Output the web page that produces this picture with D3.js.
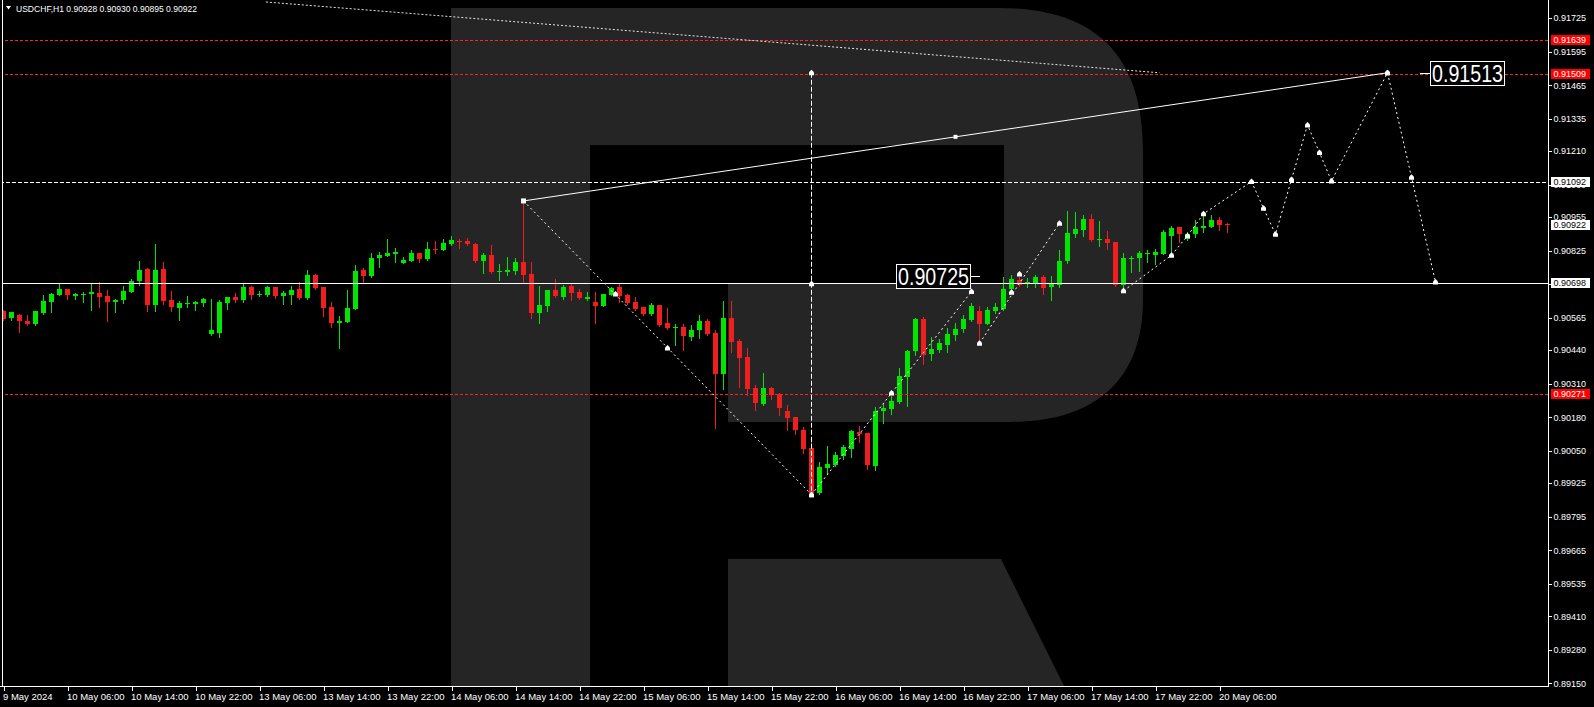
<!DOCTYPE html>
<html><head><meta charset="utf-8">
<script src="https://cdn.jsdelivr.net/npm/d3@7"></script>
<style>html,body{margin:0;padding:0;background:#000;overflow:hidden}</style>
</head><body>
<svg id="c" width="1594" height="707"></svg>
<script>
// ---------- DATA ----------
const symbolTitle = "USDCHF,H1  0.90928 0.90930 0.90895 0.90922";
const openP = [0.90591,0.90564,0.90576,0.90553,0.90541,0.90584,0.90626,0.90653,0.90677,0.90650,
0.90654,0.90657,0.90661,0.90650,0.90626,0.90634,0.90665,0.90708,0.90755,0.90615,
0.90755,0.90634,0.90603,0.90620,0.90619,0.90622,0.90502,0.90506,0.90622,0.90646,
0.90634,0.90684,0.90653,0.90653,0.90684,0.90650,0.90653,0.90677,0.90642,0.90731,
0.90684,0.90607,0.90545,0.90549,0.90599,0.90750,0.90727,0.90797,0.90804,0.90812,
0.90777,0.90785,0.90816,0.90793,0.90831,0.90828,0.90851,0.90862,0.90862,0.90851,
0.90785,0.90808,0.90743,0.90742,0.90746,0.90781,0.90735,0.90584,0.90611,0.90673,
0.90646,0.90688,0.90665,0.90638,0.90626,0.90611,0.90653,0.90684,0.90653,0.90626,
0.90607,0.90580,0.90615,0.90545,0.90526,0.90530,0.90491,0.90518,0.90553,0.90506,
0.90348,0.90564,0.90475,0.90413,0.90293,0.90232,0.90293,0.90270,0.90204,0.90181,
0.90131,0.90061,0.89887,0.89984,0.89995,0.90030,0.90057,0.90123,0.90119,0.89992,
0.90204,0.90212,0.90239,0.90336,0.90437,0.90561,0.90425,0.90441,0.90460,0.90499,
0.90522,0.90557,0.90591,0.90541,0.90591,0.90599,0.90677,0.90711,0.90700,0.90700,
0.90723,0.90684,0.90692,0.90785,0.90889,0.90905,0.90947,0.90867,0.90871,0.90858,
0.90692,0.90793,0.90797,0.90812,0.90808,0.90812,0.90882,0.90917,0.90870,0.90889,
0.90913,0.90917,0.90944,0.90928];
const highP = [0.90595,0.90586,0.90579,0.90576,0.90591,0.90653,0.90661,0.90695,0.90677,0.90661,
0.90665,0.90697,0.90704,0.90673,0.90638,0.90688,0.90715,0.90785,0.90758,0.90851,
0.90781,0.90669,0.90630,0.90650,0.90630,0.90642,0.90638,0.90634,0.90646,0.90661,
0.90696,0.90688,0.90669,0.90688,0.90684,0.90669,0.90688,0.90704,0.90750,0.90735,
0.90684,0.90626,0.90572,0.90673,0.90769,0.90758,0.90816,0.90820,0.90870,0.90835,
0.90800,0.90828,0.90816,0.90858,0.90862,0.90870,0.90882,0.90870,0.90874,0.90855,
0.90816,0.90847,0.90773,0.90800,0.90797,0.91017,0.90781,0.90688,0.90673,0.90715,
0.90692,0.90696,0.90677,0.90665,0.90665,0.90657,0.90684,0.90696,0.90657,0.90646,
0.90607,0.90622,0.90615,0.90603,0.90541,0.90541,0.90537,0.90576,0.90561,0.90518,
0.90630,0.90630,0.90483,0.90448,0.90305,0.90352,0.90297,0.90274,0.90228,0.90181,
0.90143,0.90104,0.90007,0.90069,0.90046,0.90073,0.90131,0.90146,0.90119,0.90220,
0.90232,0.90262,0.90371,0.90441,0.90564,0.90568,0.90491,0.90483,0.90526,0.90545,
0.90576,0.90622,0.90611,0.90607,0.90622,0.90723,0.90731,0.90723,0.90719,0.90731,
0.90731,0.90727,0.90828,0.90978,0.90975,0.90963,0.90967,0.90940,0.90901,0.90858,
0.90816,0.90804,0.90824,0.90828,0.90831,0.90905,0.90920,0.90917,0.90897,0.90944,
0.90963,0.90963,0.90955,0.90930];
const lowP = [0.90557,0.90557,0.90508,0.90535,0.90537,0.90580,0.90588,0.90653,0.90639,0.90639,
0.90626,0.90595,0.90607,0.90553,0.90588,0.90622,0.90665,0.90692,0.90591,0.90591,
0.90619,0.90591,0.90557,0.90607,0.90595,0.90611,0.90499,0.90491,0.90599,0.90626,
0.90626,0.90638,0.90650,0.90650,0.90642,0.90619,0.90619,0.90638,0.90638,0.90677,
0.90572,0.90530,0.90448,0.90549,0.90599,0.90700,0.90723,0.90762,0.90804,0.90781,
0.90777,0.90785,0.90781,0.90789,0.90816,0.90828,0.90847,0.90835,0.90847,0.90781,
0.90739,0.90739,0.90711,0.90731,0.90735,0.90700,0.90564,0.90545,0.90591,0.90646,
0.90638,0.90634,0.90638,0.90634,0.90545,0.90611,0.90653,0.90626,0.90619,0.90595,
0.90576,0.90576,0.90533,0.90522,0.90460,0.90441,0.90479,0.90487,0.90499,0.90139,
0.90290,0.90433,0.90297,0.90266,0.90208,0.90228,0.90251,0.90189,0.90131,0.90115,
0.90042,0.89883,0.89883,0.89965,0.89992,0.90019,0.90026,0.90084,0.89980,0.89976,
0.90158,0.90193,0.90235,0.90224,0.90421,0.90386,0.90402,0.90433,0.90433,0.90479,
0.90510,0.90553,0.90475,0.90541,0.90584,0.90595,0.90673,0.90688,0.90684,0.90684,
0.90657,0.90634,0.90684,0.90777,0.90878,0.90882,0.90862,0.90843,0.90831,0.90688,
0.90680,0.90742,0.90746,0.90781,0.90773,0.90812,0.90812,0.90858,0.90866,0.90878,
0.90897,0.90917,0.90905,0.90895];
const closeP = [0.90561,0.90586,0.90553,0.90541,0.90591,0.90630,0.90657,0.90677,0.90651,0.90657,
0.90657,0.90665,0.90646,0.90626,0.90634,0.90669,0.90708,0.90750,0.90615,0.90750,
0.90630,0.90607,0.90622,0.90622,0.90626,0.90638,0.90518,0.90626,0.90646,0.90634,
0.90684,0.90653,0.90657,0.90684,0.90650,0.90661,0.90673,0.90642,0.90731,0.90680,
0.90603,0.90545,0.90553,0.90603,0.90746,0.90727,0.90797,0.90808,0.90816,0.90820,
0.90789,0.90816,0.90793,0.90831,0.90828,0.90855,0.90866,0.90858,0.90851,0.90785,
0.90808,0.90742,0.90746,0.90750,0.90781,0.90731,0.90584,0.90615,0.90673,0.90650,
0.90684,0.90661,0.90642,0.90646,0.90611,0.90657,0.90680,0.90650,0.90622,0.90599,
0.90580,0.90615,0.90537,0.90526,0.90530,0.90495,0.90518,0.90553,0.90502,0.90348,
0.90564,0.90472,0.90410,0.90290,0.90235,0.90293,0.90266,0.90216,0.90177,0.90131,
0.90057,0.89887,0.89988,0.89999,0.90034,0.90065,0.90127,0.90115,0.89995,0.90204,
0.90216,0.90243,0.90340,0.90437,0.90561,0.90421,0.90444,0.90468,0.90502,0.90522,
0.90561,0.90611,0.90541,0.90595,0.90607,0.90677,0.90715,0.90692,0.90704,0.90723,
0.90680,0.90700,0.90785,0.90893,0.90909,0.90947,0.90866,0.90871,0.90855,0.90692,
0.90797,0.90797,0.90816,0.90816,0.90820,0.90897,0.90913,0.90889,0.90889,0.90917,
0.90920,0.90944,0.90925,0.90922];

const xTickIdx = [0,8,16,24,32,40,48,56,64,72,80,88,96,104,112,120,128,136,144,152];
const xTickLabels = ["9 May 2024","10 May 06:00","10 May 14:00","10 May 22:00","13 May 06:00","13 May 14:00","13 May 22:00","14 May 06:00","14 May 14:00","14 May 22:00","15 May 06:00","15 May 14:00","15 May 22:00","16 May 06:00","16 May 14:00","16 May 22:00","17 May 06:00","17 May 14:00","17 May 22:00","20 May 06:00"];
const yTicks = [0.91725,0.91595,0.91465,0.91335,0.91210,0.91080,0.90955,0.90825,0.90695,0.90565,0.90440,0.90310,0.90180,0.90050,0.89925,0.89795,0.89665,0.89535,0.89410,0.89280,0.89150];

const redLevels = [0.91639, 0.91509, 0.90271];
const dashedWhiteLevel = 0.91092;
const solidWhiteLevel = 0.90698;
const lastPrice = 0.90922;

// analysis objects: [bar index, price]
const longTrend = [[32.8,0.91787],[144.5,0.91513]];
const targetLine = [[65,0.91017],[119,0.91265],[173,0.91513]];
const declineLine = [[65,0.91017],[76.5,0.90657],[83,0.90448],[101,0.89880]];
const verticalLine = [[101,0.91513],[101,0.90696],[101,0.89880]];
const waveA = [[101,0.89880],[111,0.90274],[121,0.90666]];
const waveB = [[122,0.90466],[126,0.90664],[127,0.90734],[132,0.90931]];
const forecast = [[140,0.90669],[146,0.90807],[148,0.90882],[150,0.90967],[156,0.91092],[157.5,0.90989],[159,0.90888],[161,0.91100],[163,0.91311],[164.5,0.91204],[166,0.91094],[173,0.91513],[176,0.91109],[179,0.90703]];
const bigLabelLeft = {value:0.90725, at:122};
const bigLabelRight = {value:0.91513, at:177.1};

// ---------- DRAW ----------
const svg = d3.select("#c");
const plotR = 1548.5, plotB = 686.5;
const x = d3.scaleLinear().domain([0,153]).range([3.5,1227.5]);
const y = d3.scaleLinear().domain([0.89150,0.91725]).range([683.3,18]);
const fmt = d3.format(".5f");
const GREEN = "#00e600", RED = "#f01e1e";

svg.append("rect").attr("width",1594).attr("height",707).attr("fill","#000");
svg.append("defs").append("clipPath").attr("id","clip")
  .append("rect").attr("x",3).attr("y",0).attr("width",plotR-3).attr("height",plotB);
const plot = svg.append("g").attr("clip-path","url(#clip)");

// watermark
const wm = plot.append("g").attr("fill","#252525");
wm.append("path").attr("d","M451,8H590V690H451Z");
wm.append("path").attr("d","M590,8H1000C1095,8 1143,55 1143,150V300C1143,380 1095,422 1010,422H728V284H1004V145H590Z");
wm.append("path").attr("d","M728,559H1001L1066,690H728Z");

// candles
const candles = d3.range(openP.length).map(i=>({i,o:openP[i],h:highP[i],l:lowP[i],c:closeP[i]}));
const cg = plot.append("g").attr("shape-rendering","crispEdges");
cg.selectAll("line").data(candles).join("line")
  .attr("x1",d=>x(d.i)).attr("x2",d=>x(d.i))
  .attr("y1",d=>Math.round(y(d.h))).attr("y2",d=>Math.round(y(d.l))+1)
  .attr("stroke",d=>d.c>=d.o?GREEN:RED).attr("stroke-width",1);
cg.selectAll("rect").data(candles).join("rect")
  .attr("x",d=>x(d.i)-2.5).attr("width",5)
  .attr("y",d=>Math.round(y(Math.max(d.o,d.c))))
  .attr("height",d=>Math.max(1,Math.round(y(Math.min(d.o,d.c)))-Math.round(y(Math.max(d.o,d.c)))))
  .attr("fill",d=>d.c>=d.o?GREEN:RED);

// horizontal levels
const lv = plot.append("g").attr("shape-rendering","crispEdges");
redLevels.forEach(v=>{
  lv.append("line").attr("x1",0).attr("x2",plotR).attr("y1",Math.round(y(v))+0.5).attr("y2",Math.round(y(v))+0.5)
    .attr("stroke","#ff2424").attr("stroke-dasharray","3,2");
});
lv.append("line").attr("x1",0).attr("x2",plotR).attr("y1",Math.round(y(dashedWhiteLevel))+0.5).attr("y2",Math.round(y(dashedWhiteLevel))+0.5)
  .attr("stroke","#fff").attr("stroke-dasharray","4,2");
lv.append("line").attr("x1",0).attr("x2",plotR).attr("y1",Math.round(y(solidWhiteLevel))+0.5).attr("y2",Math.round(y(solidWhiteLevel))+0.5)
  .attr("stroke","#fff");

// analysis lines
const line = d3.line().x(d=>x(d[0])).y(d=>y(d[1]));
const an = plot.append("g").attr("fill","none");
an.append("path").attr("d",line(longTrend)).attr("stroke","#e6e6e6").attr("stroke-dasharray","2,2");
an.append("path").attr("d",line([targetLine[0],targetLine[2]])).attr("stroke","#fff").attr("stroke-width",1);
an.append("path").attr("d",line([declineLine[0],declineLine[declineLine.length-1]])).attr("stroke","#fff").attr("stroke-dasharray","2,3");
an.append("path").attr("d",line([verticalLine[0],verticalLine[2]])).attr("stroke","#fff").attr("stroke-dasharray","5,2");
an.append("path").attr("d",line([waveA[0],waveA[waveA.length-1]])).attr("stroke","#fff").attr("stroke-dasharray","2,3");
an.append("path").attr("d",line([waveB[0],waveB[waveB.length-1]])).attr("stroke","#fff").attr("stroke-dasharray","2,3");
an.append("path").attr("d",line(forecast)).attr("stroke","#fff").attr("stroke-dasharray","2,3");

// markers
const mk = plot.append("g").attr("fill","#fff");
const house = "M-2.5,-0.5L0,-3L2.5,-0.5L2.5,2.5L-2.5,2.5Z";
const markPts = [].concat(declineLine.slice(1), verticalLine, waveA.slice(1), waveB, forecast, [targetLine[2]]);
mk.selectAll("path").data(markPts).join("path")
  .attr("d",house).attr("transform",d=>`translate(${x(d[0])},${y(d[1])})`);
[targetLine[0],targetLine[1]].forEach((d,k)=>{
  const s = k===0?5:4;
  mk.append("rect").attr("x",x(d[0])-s/2).attr("y",y(d[1])-s/2).attr("width",s).attr("height",s);
});

// big price labels
function bigLabel(v, at, side){
  const yc = y(v), xa = x(at);
  const bw = 74, bh = 24;
  const bx = side==="left" ? xa-10-bw : xa+10;
  const g = plot.append("g");
  g.append("line").attr("x1",xa).attr("x2",side==="left"?xa-10:xa+10).attr("y1",Math.round(yc)+0.5).attr("y2",Math.round(yc)+0.5)
    .attr("stroke","#fff").attr("shape-rendering","crispEdges");
  g.append("rect").attr("x",Math.round(bx)+0.5).attr("y",Math.round(yc-bh/2)+0.5).attr("width",bw).attr("height",bh)
    .attr("fill","#000").attr("stroke","#fff").attr("shape-rendering","crispEdges");
  g.append("text").attr("x",Math.round(bx)+2).attr("y",Math.round(yc-bh/2)+21)
    .attr("fill","#fff").attr("font-family","Liberation Sans, Arial, sans-serif").attr("font-size",23)
    .attr("textLength",71).attr("lengthAdjust","spacingAndGlyphs").text(fmt(v));
}
bigLabel(bigLabelLeft.value, bigLabelLeft.at, "left");
bigLabel(bigLabelRight.value, bigLabelRight.at, "right");

// frame lines
const fr = svg.append("g").attr("stroke","#fff").attr("shape-rendering","crispEdges");
fr.append("line").attr("x1",plotR).attr("x2",plotR).attr("y1",0).attr("y2",plotB);
fr.append("line").attr("x1",0).attr("x2",plotR).attr("y1",plotB).attr("y2",plotB);
fr.append("line").attr("x1",2.5).attr("x2",2.5).attr("y1",0).attr("y2",plotB);

// right axis
const ya = svg.append("g").attr("transform",`translate(${plotR},0)`)
  .call(d3.axisRight(y).tickValues(yTicks).tickFormat(fmt).tickSize(3).tickPadding(2).tickSizeOuter(0));
ya.select(".domain").remove();
ya.attr("font-family","Liberation Sans, Arial, sans-serif").attr("font-size",9);
ya.selectAll("line").attr("stroke","#fff").attr("shape-rendering","crispEdges");
ya.selectAll("text").attr("fill","#fff");

// right axis highlighted values
const hl = svg.append("g").attr("font-family","Liberation Sans, Arial, sans-serif").attr("font-size",9);
function axisBox(v, bg, fg){
  const yc = Math.round(y(v));
  hl.append("rect").attr("x",1551).attr("y",yc-5).attr("width",39).attr("height",10).attr("fill",bg);
  hl.append("text").attr("x",1553.5).attr("y",yc).attr("dy","0.34em").attr("fill",fg).text(fmt(v));
}
redLevels.forEach(v=>axisBox(v,"#ff0000","#fff"));
axisBox(dashedWhiteLevel,"#fff","#000");
axisBox(lastPrice,"#fff","#000");
axisBox(solidWhiteLevel,"#fff","#000");

// bottom axis
const xa = svg.append("g").attr("transform",`translate(0,${plotB})`)
  .call(d3.axisBottom(x).tickValues(xTickIdx).tickFormat((d,i)=>xTickLabels[i]).tickSize(4).tickPadding(3).tickSizeOuter(0));
xa.select(".domain").remove();
xa.attr("font-family","Liberation Sans, Arial, sans-serif").attr("font-size",9.5);
xa.selectAll("line").attr("stroke","#fff").attr("shape-rendering","crispEdges");
xa.selectAll("text").attr("fill","#fff").attr("text-anchor","start").attr("dx",-1);

// title
const tg = svg.append("g");
tg.append("path").attr("d","M6,6H11L8.5,9.5Z").attr("fill","#fff");
tg.append("text").attr("x",16).attr("y",12).attr("fill","#fff")
  .attr("font-family","Liberation Sans, Arial, sans-serif").attr("font-size",9)
  .attr("textLength",181).attr("lengthAdjust","spacingAndGlyphs").text(symbolTitle);
</script>
</body></html>
